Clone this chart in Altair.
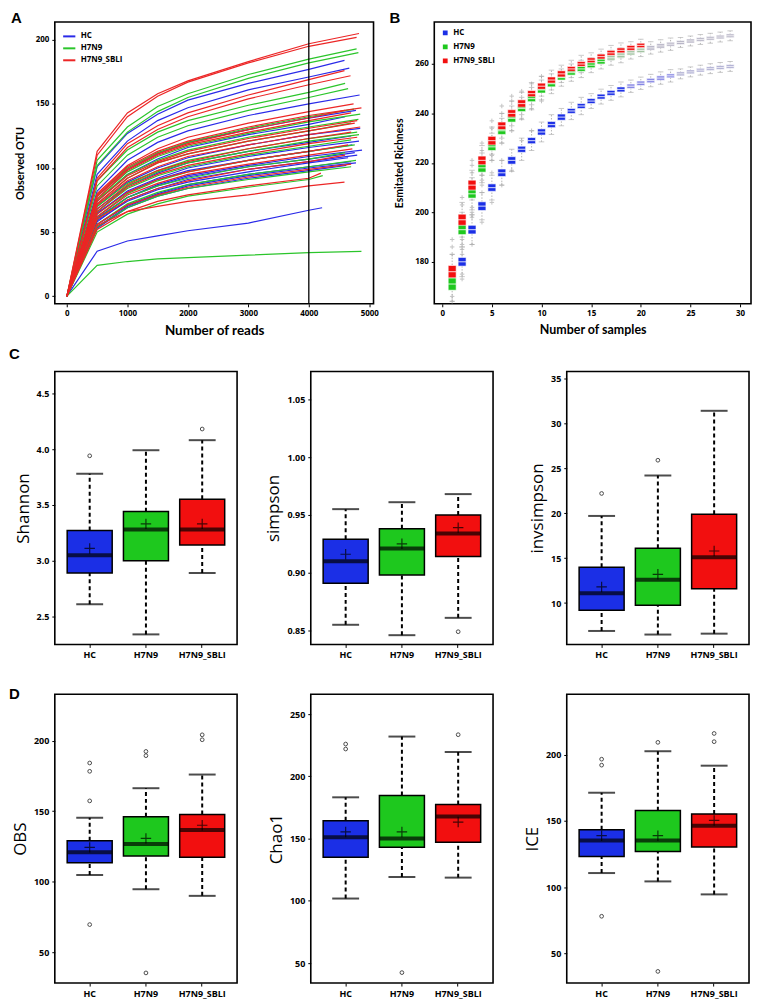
import altair as alt
import pandas as pd

GROUPS = ["HC", "H7N9", "H7N9_SBLI"]
LINE_COLORS = ["#2a2ae8", "#2bc52b", "#ec2626"]
BOX_COLORS = ["#1b2fe6", "#1ec81e", "#f20f0f"]
FONT = "Open Sans"
TFONT = "Lato"
LETTER_FONT = "Liberation Sans"

# ---------------- Panel A: rarefaction curves ----------------
READ_STEPS = [0, 500, 1000, 1500, 2000, 3000, 4000]

HC_END = [4590, 4670, 4840, 4780, 4600, 4850, 4700, 4830, 4720, 4880, 4760, 4800, 4650, 4700, 4780, 4620, 4220]
HC_OTU = [
    [101, 127, 142, 153, 166, 177, 184],
    [95, 121, 137, 147, 161, 171, 178],
    [82, 106, 120, 129, 141, 150, 157],
    [78, 99, 111, 120, 130, 139, 145],
    [74, 95, 107, 116, 126, 134, 140],
    [70, 89, 100, 108, 118, 126, 131],
    [68, 86, 96, 104, 113, 120, 125],
    [64, 82, 92, 100, 109, 116, 121],
    [65, 81, 91, 98, 106, 113, 118],
    [60, 77, 87, 94, 102, 109, 114],
    [61, 77, 86, 93, 101, 107, 112],
    [58, 75, 84, 91, 99, 105, 110],
    [59, 74, 83, 89, 97, 104, 108],
    [56, 71, 80, 87, 95, 101, 105],
    [54, 70, 79, 86, 94, 100, 104],
    [53, 69, 78, 84, 92, 98, 102],
    [35, 43, 47, 51, 57, 67, 69],
]
H7N9_END = [4790, 4820, 4600, 4650, 4750, 4850, 4820, 4700, 4800, 4830, 4700, 4760, 4600, 4780, 4700, 4230, 4870]
H7N9_OTU = [
    [106, 132, 148, 158, 173, 185, 193],
    [102, 128, 144, 155, 170, 182, 190],
    [90, 114, 128, 137, 149, 159, 166],
    [86, 110, 124, 133, 145, 155, 162],
    [78, 100, 112, 120, 131, 140, 146],
    [76, 97, 109, 117, 127, 136, 142],
    [75, 95, 106, 114, 124, 132, 138],
    [72, 92, 104, 111, 121, 129, 135],
    [70, 88, 98, 106, 115, 123, 128],
    [66, 86, 97, 104, 113, 121, 126],
    [66, 84, 94, 101, 110, 117, 122],
    [62, 80, 90, 97, 106, 113, 118],
    [60, 77, 86, 92, 101, 107, 112],
    [56, 72, 81, 87, 95, 101, 106],
    [54, 69, 78, 84, 91, 97, 101],
    [50, 64, 72, 78, 85, 91, 94],
    [24, 27, 29, 30, 32, 34, 35],
]
SBLI_END = [4830, 4790, 4590, 4690, 4740, 4870, 4600, 4700, 4800, 4760, 4850, 4700, 4800, 4650, 4720, 4600, 4700, 4200, 4590]
SBLI_OTU = [
    [113, 143, 158, 168, 183, 197, 205],
    [110, 140, 156, 167, 182, 195, 202],
    [92, 119, 133, 143, 157, 169, 176],
    [90, 116, 130, 140, 154, 165, 172],
    [80, 102, 115, 124, 135, 144, 150],
    [79, 101, 113, 121, 132, 141, 147],
    [78, 99, 111, 119, 130, 139, 145],
    [76, 98, 110, 118, 128, 137, 143],
    [74, 94, 105, 113, 123, 131, 137],
    [72, 92, 104, 111, 121, 129, 135],
    [71, 90, 101, 109, 118, 126, 132],
    [68, 87, 98, 105, 115, 123, 128],
    [66, 85, 95, 102, 111, 119, 124],
    [64, 81, 91, 97, 106, 113, 118],
    [62, 79, 88, 95, 103, 110, 115],
    [60, 75, 84, 90, 99, 105, 110],
    [56, 71, 79, 85, 93, 99, 103],
    [52, 66, 74, 79, 86, 92, 96],
    [55, 66, 70, 74, 79, 86, 89],
]
CUTOFF_READS = [4000]

# ---------------- Panel B: estimated richness ----------------
B_SBLI_N = list(range(1, 21))
B_SBLI_MED = [176, 197, 211, 221, 229, 235, 240, 244, 248, 251, 253.5, 256, 258, 260, 261.5, 263, 264.5, 265.5, 266.5, 267.5]
B_SBLI_IQR = [5, 4.5, 4, 3.5, 3.5, 3, 3, 3, 2.5, 2.5, 2.5, 2.5, 2, 2, 2, 2, 2, 2, 2, 1.8]
B_SBLI_WHISK = [7, 7, 6, 6, 5.5, 5, 5, 4.5, 4.5, 4, 4, 3.5, 3.5, 3.5, 3, 3, 3, 3, 2.5, 2.5]

B_H7N9_N = list(range(1, 30))
B_H7N9_MED = [171, 193, 207.5, 218, 226.5, 233, 238, 242, 246, 249.5, 252, 254.5, 256.5, 258, 259.5, 261,
              262.5, 263.5, 264.5, 265.5, 266.5, 267.3, 268, 268.7, 269.3, 269.9, 270.4, 270.9, 271.4]
B_H7N9_IQR = [5, 4, 3.5, 3.5, 3, 3, 3, 2.5, 2.5, 2.5, 2.5, 2, 2, 2, 2, 2, 2, 2, 1.8, 1.8, 1.8, 1.8, 1.6, 1.6,
              1.6, 1.5, 1.5, 1.5, 1.5]
B_H7N9_WHISK = [7, 7, 6.5, 6, 5.5, 5, 5, 4.5, 4.5, 4, 4, 3.5, 3.5, 3.5, 3, 3, 3, 3, 2.5, 2.5, 2.5, 2.5, 2.5,
                2, 2, 2, 2, 2, 2]

B_HC_N = list(range(2, 30))
B_HC_MED = [180, 193, 202.5, 210, 216, 221, 225.5, 229, 232.5, 235.5, 238.5, 241, 243, 245, 246.8, 248.3,
            249.7, 251, 252.2, 253.3, 254.3, 255.2, 256, 256.8, 257.5, 258.1, 258.6, 259]
B_HC_IQR = [3.5, 3.5, 3.5, 3, 3, 3, 2.5, 2.5, 2.5, 2.5, 2.5, 2, 2, 2, 2, 2, 2, 1.8, 1.8, 1.8, 1.8, 1.6, 1.6,
            1.6, 1.5, 1.5, 1.5, 1.5]
B_HC_WHISK = [6, 6, 5.5, 5, 5, 4.5, 4.5, 4, 4, 4, 3.5, 3.5, 3.5, 3, 3, 3, 3, 2.5, 2.5, 2.5, 2.5, 2.5, 2, 2,
              2, 2, 2, 2]

B_OUT_N = [1, 1, 1, 1, 1, 2, 2, 2, 2, 2, 2, 2, 2, 3, 3, 3, 3, 3, 3, 3, 3, 4, 4, 4, 4, 4, 4, 4,
           5, 5, 5, 5, 5, 5, 6, 6, 6, 6, 6, 7, 7, 7, 7, 8, 8, 8, 9, 9, 9, 10, 10]
B_OUT_V = [183, 186, 189, 164, 166, 203, 206, 183, 185, 187, 189, 173, 175, 216, 219, 221, 198, 200, 202,
           187, 199, 225, 228, 211, 213, 215, 196, 208, 234, 237, 221, 223, 204, 216, 240, 243, 228, 211,
           221, 245, 247, 233, 217, 249, 238, 229, 252, 242, 233, 255, 245]

# ---------------- Panels C / D: alpha diversity boxplots ----------------
SHANNON = dict(q1=[2.89, 3.00, 3.14], med=[3.05, 3.28, 3.28], q3=[3.27, 3.44, 3.55],
               lo=[2.61, 2.34, 2.89], hi=[3.78, 3.99, 4.08], mean=[3.11, 3.33, 3.33],
               out_g=["HC", "H7N9_SBLI"], out_v=[3.94, 4.18])
SIMPSON = dict(q1=[0.891, 0.898, 0.914], med=[0.910, 0.921, 0.934], q3=[0.929, 0.938, 0.950],
               lo=[0.855, 0.846, 0.861], hi=[0.955, 0.961, 0.968], mean=[0.916, 0.925, 0.939],
               out_g=["H7N9_SBLI"], out_v=[0.849])
INVSIMPSON = dict(q1=[9.2, 9.75, 11.6], med=[11.1, 12.6, 15.1], q3=[14.0, 16.1, 19.9],
                  lo=[6.9, 6.5, 6.6], hi=[19.7, 24.2, 31.4], mean=[11.8, 13.2, 15.8],
                  out_g=["HC", "H7N9"], out_v=[22.2, 25.9])
OBS = dict(q1=[113.4, 118.2, 117.3], med=[120.8, 126.7, 136.6], q3=[129, 146, 147.7],
           lo=[104.7, 94.6, 89.9], hi=[145.3, 166.3, 176], mean=[124.3, 130.7, 140],
           out_g=["HC", "HC", "HC", "HC", "H7N9", "H7N9", "H7N9", "H7N9_SBLI", "H7N9_SBLI"],
           out_v=[69.5, 157.3, 178.3, 184.2, 35.2, 189.4, 192.4, 200.7, 204.2])
CHAO1 = dict(q1=[135.1, 143.1, 147.1], med=[151.1, 150.1, 167.8], q3=[164.4, 184.6, 177.4],
             lo=[101.9, 119.2, 118.7], hi=[183.2, 232, 219.6], mean=[155.4, 155.4, 163.3],
             out_g=["HC", "HC", "H7N9", "H7N9_SBLI"], out_v=[222, 226, 42.4, 233.5])
ICE = dict(q1=[123.1, 126.9, 130.2], med=[135.1, 135.1, 146.3], q3=[143.3, 157.7, 155.2],
           lo=[110.6, 104.3, 94.5], hi=[171.2, 202.5, 191.6], mean=[138.8, 138.8, 150.3],
           out_g=["HC", "HC", "HC", "H7N9", "H7N9", "H7N9_SBLI", "H7N9_SBLI"],
           out_v=[78, 192, 196.5, 36.4, 209.2, 209.7, 215.9])

PLUS = "M-1,0L1,0M0,-1L0,1"
HLINE = "M-1,0L1,0"


def letter(ch, dx, dy, baseline="alphabetic"):
    return alt.Chart(pd.DataFrame({"t": [ch]})).mark_text(
        font=LETTER_FONT, fontSize=15, fontWeight="bold", align="left", baseline=baseline, color="black"
    ).encode(text="t:N", x=alt.value(dx), y=alt.value(dy))


def small_axis(values, title, fmt, title_size, orient_pad=5):
    return alt.Axis(values=values, title=title, format=fmt, labelFontSize=8, labelFontWeight="bold",
                    labelFont=FONT, titleFont=TFONT, titleFontSize=title_size, titleFontWeight="bold",
                    titlePadding=orient_pad, labelPadding=3, tickSize=3, domain=False, grid=False)


# ---- Panel A ----
rows = []
for g, ends, curves in [("HC", HC_END, HC_OTU), ("H7N9", H7N9_END, H7N9_OTU), ("H7N9_SBLI", SBLI_END, SBLI_OTU)]:
    for i, (e, c) in enumerate(zip(ends, curves)):
        for r, o in zip(READ_STEPS + [e], [0] + c):
            rows.append({"group": g, "curve": f"{g}_{i}", "reads": r, "otu": o})
dfA = pd.DataFrame(rows)

xA = alt.X("reads:Q", scale=alt.Scale(domain=[-200, 5070], nice=False, zero=False),
           axis=small_axis([0, 1000, 2000, 3000, 4000, 5000], "Number of reads", "d", 13.5, 6))
yA = alt.Y("otu:Q", scale=alt.Scale(domain=[-6, 214], nice=False, zero=False),
           axis=small_axis([0, 50, 100, 150, 200], "Observed OTU", "d", 11, 10))

linesA = alt.Chart(dfA).mark_line(strokeWidth=1.2).encode(
    x=xA, y=yA,
    color=alt.Color("group:N", scale=alt.Scale(domain=GROUPS, range=LINE_COLORS),
                    legend=alt.Legend(orient="top-left", title=None, symbolType="stroke", symbolStrokeWidth=2,
                                      symbolSize=150, labelFontSize=8, labelFontWeight="bold", labelFont=FONT,
                                      offset=7, rowPadding=0, padding=0, labelOffset=4)),
    detail="curve:N",
)
ruleA = alt.Chart(pd.DataFrame({"reads": CUTOFF_READS})).mark_rule(color="black", strokeWidth=1.3).encode(x="reads:Q")
panelA = alt.layer(linesA, ruleA, letter("A", -44, -11, "top")).properties(width=320, height=283)

# ---- Panel B ----
def tone_of(group, n):
    if group == "H7N9":
        return 0 if n <= 16 else (1 if n <= 20 else 2)
    if group == "HC":
        return 0 if n <= 18 else (1 if n <= 23 else 2)
    return 0

FADE = {("H7N9", 1): "#a3c4a3", ("H7N9", 2): "#b5b2c4", ("HC", 1): "#8686e4", ("HC", 2): "#aaa9d0"}

rowsB = []
for g, ns, meds, iqrs, whs in [("HC", B_HC_N, B_HC_MED, B_HC_IQR, B_HC_WHISK),
                               ("H7N9", B_H7N9_N, B_H7N9_MED, B_H7N9_IQR, B_H7N9_WHISK),
                               ("H7N9_SBLI", B_SBLI_N, B_SBLI_MED, B_SBLI_IQR, B_SBLI_WHISK)]:
    for n, m, q, w in zip(ns, meds, iqrs, whs):
        t = tone_of(g, n)
        rowsB.append({"group": g, "n": n, "med": m, "q1": m - q / 2, "q3": m + q / 2,
                      "lo": m - w, "hi": m + w, "tone": t, "fadec": FADE.get((g, t), "#999999")})
dfB = pd.DataFrame(rowsB)
dfBout = pd.DataFrame({"n": B_OUT_N, "v": B_OUT_V})

xscaleB = alt.Scale(domain=[-0.3, 30.6], nice=False, zero=False)
yscaleB = alt.Scale(domain=[163, 277], nice=False, zero=False)
xaxB = small_axis([0, 5, 10, 15, 20, 25, 30], "Number of samples", "d", 12.5, 6)
yaxB = small_axis([180, 200, 220, 240, 260], "Esmitated Richness", "d", 10.5, 10)

def XB(f):
    return alt.X(f"{f}:Q", scale=xscaleB, axis=xaxB)

def YB(f):
    return alt.Y(f"{f}:Q", scale=yscaleB, axis=yaxB)

whiskB = alt.Chart(dfB).mark_rule(color="#b4b4b4", strokeWidth=1, strokeDash=[1.5, 1.5]).encode(
    x=XB("n"), y=YB("lo"), y2="hi")
capLoB = alt.Chart(dfB).mark_point(shape=HLINE, size=30, filled=False, color="#b4b4b4", strokeWidth=1).encode(
    x=XB("n"), y=YB("lo"))
capHiB = alt.Chart(dfB).mark_point(shape=HLINE, size=30, filled=False, color="#b4b4b4", strokeWidth=1).encode(
    x=XB("n"), y=YB("hi"))
outB = alt.Chart(dfBout).mark_point(shape=PLUS, size=20, filled=False, color="#aaaaaa", strokeWidth=1).encode(
    x=XB("n"), y=YB("v"))
boxB = alt.Chart(dfB).transform_filter("datum.tone == 0").mark_bar(
    size=8, orient="vertical", stroke="white", strokeWidth=0.6).encode(
    x=XB("n"), y=YB("q1"), y2="q3",
    color=alt.Color("group:N", scale=alt.Scale(domain=GROUPS, range=BOX_COLORS),
                    legend=alt.Legend(orient="top-left", title=None, symbolType="square", symbolSize=40,
                                      labelFontSize=8, labelFontWeight="bold", labelFont=FONT,
                                      offset=7, rowPadding=0, padding=0, labelOffset=4)))
fadeB = alt.Chart(dfB).transform_filter("datum.tone > 0").mark_bar(
    size=8, orient="vertical", stroke="white", strokeWidth=0.6).encode(
    x=XB("n"), y=YB("q1"), y2="q3", fill=alt.Fill("fadec:N", scale=None, legend=None))
medB = alt.Chart(dfB).mark_point(shape=HLINE, size=64, filled=False, color="white", strokeWidth=1.2).encode(
    x=XB("n"), y=YB("med"))
panelB = alt.layer(whiskB, capLoB, capHiB, outB, fadeB, boxB, medB, letter("B", -45, -11, "top")).properties(
    width=318, height=283)


# ---- Panels C / D ----
def box_panel(stats, title, domain, ticks, fmt, width, height, let=None, let_dy=0):
    df = pd.DataFrame({"group": GROUPS, "q1": stats["q1"], "med": stats["med"], "q3": stats["q3"],
                       "lo": stats["lo"], "hi": stats["hi"], "mean": stats["mean"]})
    dfo = pd.DataFrame({"group": stats["out_g"], "v": stats["out_v"]})
    xs = alt.X("group:N", sort=GROUPS,
               scale=alt.Scale(domain=GROUPS, paddingInner=0.2, paddingOuter=0.22),
               axis=alt.Axis(title=None, labelAngle=0, labelFontSize=9, labelFontWeight="bold",
                             labelFont=FONT, tickSize=3, labelPadding=3, domain=False, grid=False))
    ysc = alt.Scale(domain=domain, nice=False, zero=False)
    yax = alt.Axis(values=ticks, format=fmt, title=title, labelFontSize=9, labelFontWeight="bold",
                   labelFont=FONT, titleFont=FONT, titleFontSize=17, titleFontWeight="normal",
                   titlePadding=4, tickSize=3, labelPadding=3, domain=False, grid=False)

    def Y(f):
        return alt.Y(f"{f}:Q", scale=ysc, axis=yax)

    base = alt.Chart(df)
    wu = base.mark_rule(color="black", strokeWidth=2, strokeDash=[4, 3]).encode(x=xs, y=Y("q3"), y2="hi")
    wl = base.mark_rule(color="black", strokeWidth=2, strokeDash=[4, 3]).encode(x=xs, y=Y("lo"), y2="q1")
    box = base.mark_bar(stroke="black", strokeWidth=1.5).encode(
        x=xs, y=Y("q1"), y2="q3",
        color=alt.Color("group:N", scale=alt.Scale(domain=GROUPS, range=BOX_COLORS), legend=None))
    med = base.mark_tick(color="black", thickness=4, size=45).encode(x=xs, y=Y("med"))
    caplo = base.mark_tick(color="black", thickness=2, size=27).encode(x=xs, y=Y("lo"))
    caphi = base.mark_tick(color="black", thickness=2, size=27).encode(x=xs, y=Y("hi"))
    mean = base.mark_point(shape=PLUS, size=110, filled=False, color="black", strokeWidth=1.2).encode(
        x=xs, y=Y("mean"))
    outs = alt.Chart(dfo).mark_point(shape="circle", size=14, filled=False, color="black", strokeWidth=1).encode(
        x=xs, y=Y("v"))
    layers = [wu, wl, box, med, caplo, caphi, mean, outs]
    if let:
        layers.append(letter(let, -46, let_dy))
    return alt.layer(*layers).properties(width=width, height=height)


RES = dict(x="independent", y="independent", color="independent", fill="independent")

c1 = box_panel(SHANNON, "Shannon", [2.25, 4.695], [2.5, 3.0, 3.5, 4.0, 4.5], ".1f", 183, 274, "C", -13)
c2 = box_panel(SIMPSON, "simpson", [0.838, 1.074], [0.85, 0.90, 0.95, 1.00, 1.05], ".2f", 183, 274)
c3 = box_panel(INVSIMPSON, "invsimpson", [5.4, 35.77], [10, 15, 20, 25, 30, 35], "d", 183, 274)
d1 = box_panel(OBS, "OBS", [28, 233], [50, 100, 150, 200], "d", 183, 290, "D", 5)
d2 = box_panel(CHAO1, "Chao1", [34, 266], [50, 100, 150, 200, 250], "d", 183, 290)
d3 = box_panel(ICE, "ICE", [27.6, 245.5], [50, 100, 150, 200], "d", 183, 290)

row1 = alt.hconcat(panelA, panelB, spacing=61, bounds="flush").resolve_scale(**RES)
row2 = alt.hconcat(c1, c2, c3, spacing=74, bounds="flush").resolve_scale(**RES)
row3 = alt.hconcat(d1, d2, d3, spacing=74, bounds="flush").resolve_scale(**RES)
lower = alt.vconcat(row2, row3, spacing=26).resolve_scale(**RES)

chart = alt.vconcat(row1, lower, spacing=7).resolve_scale(**RES).properties(
    padding=0
).configure_view(stroke="black", strokeWidth=1.6).configure_axis(
    labelColor="black", titleColor="black", tickColor="black"
)

chart.save("out.html", embed_options={"renderer": "svg", "actions": False})
